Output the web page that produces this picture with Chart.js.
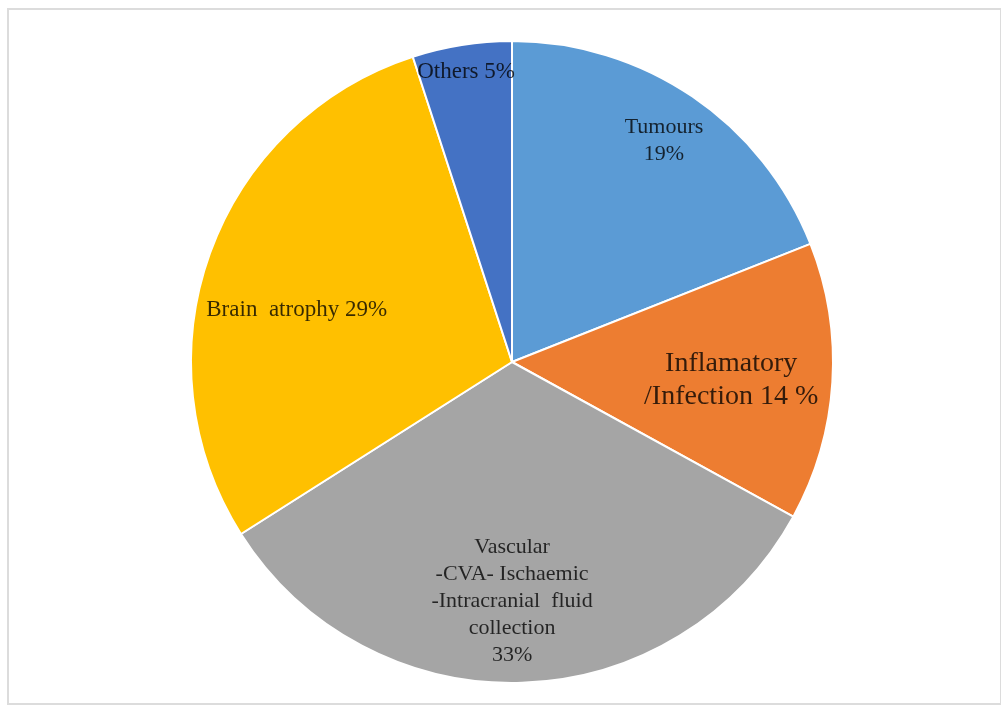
<!DOCTYPE html>
<html>
<head>
<meta charset="utf-8">
<script src="https://cdn.jsdelivr.net/npm/chart.js@4"></script>
<style>
  html, body { margin: 0; padding: 0; background: #ffffff; }
  #wrap { position: relative; width: 1001px; height: 707px; overflow: hidden; }
  #frame {
    position: absolute; left: 7px; top: 8px; width: 991px; height: 693px;
    border: 2px solid #dcdcdc; box-sizing: content-box;
  }
  canvas { position: absolute; left: 0; top: 0; }
</style>
</head>
<body>
<div id="wrap">
  <div id="frame"></div>
  <canvas id="c" width="1001" height="707"></canvas>
</div>
<script>
// Causes of abnormal findings (percent)
const categories = ['Tumours', 'Inflamatory /Infection', 'Vascular', 'Brain atrophy', 'Others'];
const percents = [19, 14, 33, 29, 5];
const sliceColors = ['#5B9BD5', '#ED7D31', '#A5A5A5', '#FFC000', '#4472C4'];

// Text shown inside each slice, one entry per line
const labelLines = [
  ['Tumours', '19%'],
  ['Inflamatory', '/Infection 14 %'],
  ['Vascular', '-CVA- Ischaemic', '-Intracranial  fluid', 'collection', '33%'],
  ['Brain  atrophy 29%'],
  ['Others 5%']
];

// Label placement inside each slice: fraction along the arc, fraction of the radius
const labelPlacement = [
  { along: 0.505, radial: 0.835, size: 22, lineHeight: 27 },
  { along: 0.52, radial: 0.685, size: 28, lineHeight: 33 },
  { along: 0.515, radial: 0.745, size: 22, lineHeight: 27 },
  { along: 0.44, radial: 0.69, size: 23, lineHeight: 26 },
  { along: 0.5, radial: 0.915, size: 23, lineHeight: 26 }
];

const sliceLabels = {
  id: 'sliceLabels',
  afterDatasetsDraw(chart) {
    const ctx = chart.ctx;
    const meta = chart.getDatasetMeta(0);
    meta.data.forEach((arc, i) => {
      const p = arc.getProps(['x', 'y', 'startAngle', 'endAngle', 'outerRadius'], true);
      const place = labelPlacement[i];
      const a = p.startAngle + place.along * (p.endAngle - p.startAngle);
      const r = p.outerRadius * place.radial;
      const cx = p.x + Math.cos(a) * r;
      const cy = p.y + Math.sin(a) * r;
      const lines = labelLines[i];
      ctx.save();
      ctx.font = place.size + 'px "Liberation Serif", "Times New Roman", serif';
      ctx.fillStyle = 'rgba(0,0,0,0.78)';
      ctx.textAlign = 'center';
      ctx.textBaseline = 'middle';
      const top = cy - (lines.length - 1) * place.lineHeight / 2;
      lines.forEach((t, k) => ctx.fillText(t, cx, top + k * place.lineHeight));
      ctx.restore();
    });
  }
};

new Chart(document.getElementById('c'), {
  type: 'pie',
  data: {
    labels: categories,
    datasets: [{
      data: percents,
      backgroundColor: sliceColors,
      borderColor: '#ffffff',
      borderWidth: 2
    }]
  },
  options: {
    responsive: false,
    animation: false,
    layout: { padding: { left: 190, right: 167, top: 40, bottom: 23 } },
    plugins: {
      legend: { display: false },
      tooltip: { enabled: false }
    }
  },
  plugins: [sliceLabels]
});
</script>
</body>
</html>
